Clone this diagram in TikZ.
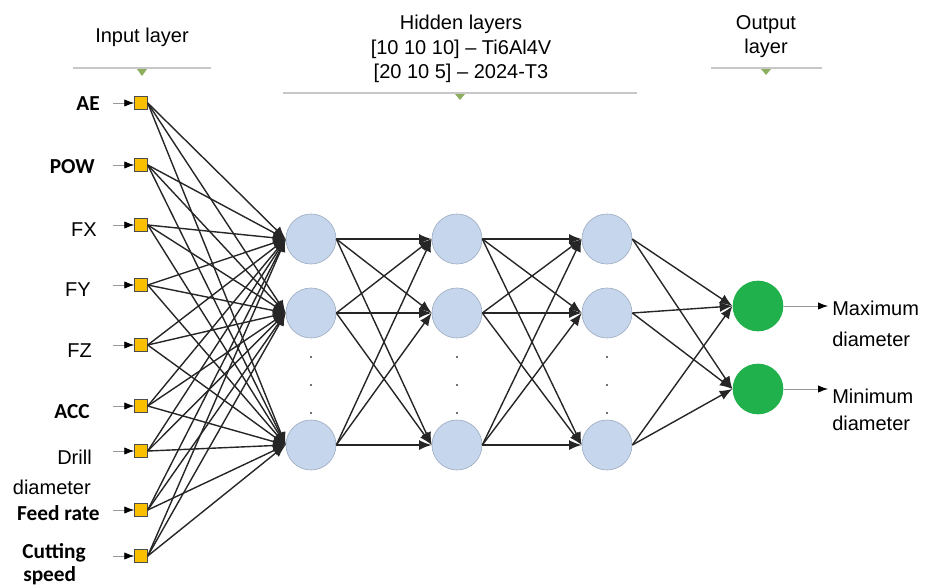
\documentclass[tikz,border=0pt]{standalone}
\usepackage{fontspec}
\setmainfont{Liberation Sans}
\newfontfamily\calib{Carlito}
\usetikzlibrary{arrows.meta, positioning}
\definecolor{inyellow}{HTML}{FAC000}
\definecolor{hidblue}{HTML}{C6D6EC}
\definecolor{hidline}{HTML}{A0AFC4}
\definecolor{outgreen}{HTML}{20B04C}
\definecolor{trigreen}{HTML}{8CAE5E}

\begin{document}
\begin{tikzpicture}[x=0.75pt,y=-0.75pt,
  inbox/.style={draw=black!70,fill=inyellow,minimum size=9.5pt,inner sep=0pt,line width=0.6pt},
  hid/.style={circle,draw=hidline,fill=hidblue,minimum size=37.5pt,inner sep=0pt,line width=0.5pt},
  outn/.style={circle,fill=outgreen,minimum size=38pt,inner sep=0pt},
  conn/.style={draw=black!85,line width=1.05pt,-{Latex[length=9.5pt,width=7.5pt]}},
  feed/.style={draw=gray!80,line width=0.6pt,-{Latex[length=7.5pt,width=5.5pt,color=black]}},
  plab/.style={font=\fontsize{15}{18.4}\selectfont,inner sep=0pt},
  blab/.style={font=\calib\bfseries\fontsize{16}{19}\selectfont,inner sep=0pt},
  hdline/.style={draw=black!22,line width=0.9pt}]
\useasboundingbox (0,0) rectangle (930,586);

% headers
\node[plab,anchor=base] (hdin) at (142,42) {Input layer};
\node[plab,anchor=north,align=center] (hdhid) at (461,15) {Hidden layers\\{[10 10 10]} -- Ti6Al4V\\{[20 10 5]} -- 2024-T3};
\node[plab,anchor=north,align=center] (hdout) at (766,15) {Output\\layer};
\draw[hdline] (73,68) -- (211,68);
\draw[hdline] (283,93) -- (637,93);
\draw[hdline] (711,68) -- (822,68);
\fill[trigreen] (137,69) -- (147,69) -- (142,76) -- cycle;
\fill[trigreen] (455,94) -- (465,94) -- (460,100) -- cycle;
\fill[trigreen] (761,69) -- (771,69) -- (766,75) -- cycle;

% input layer
\foreach \i/\y in {1/103,2/165,3/225,4/285,5/345,6/406,7/451,8/510,9/556}{
  \node[inbox] (in\i) at (141,\y) {};
  \coordinate (s\i) at (113,\y);
  \draw[feed] (s\i) -- (in\i);
}
\node[blab,anchor=base east] (lae) at (100,110) {AE};
\node[blab,anchor=base east] (lpow) at (95,173) {POW};
\node[plab,anchor=base east] (lfx) at (97,236) {FX};
\node[plab,anchor=base east] (lfy) at (91,296) {FY};
\node[plab,anchor=base east] (lfz) at (92,357) {FZ};
\node[blab,anchor=base east] (lacc) at (90,418) {ACC};
\node[plab,anchor=base east] (ldrill) at (92,464) {Drill};
\node[plab,anchor=base east] (ldiam) at (91,494) {diameter};
\node[blab,anchor=base east] (lfeed) at (100,520) {Feed rate};
\node[blab,anchor=base west] (lcut) at (22,558) {Cutting};
\node[blab,anchor=base west] (lspeed) at (23,581) {speed};

% hidden layers
\foreach \c/\x in {1/311,2/457,3/607}{
  \foreach \r/\y in {1/239,2/313,3/445} \node[hid] (h\c\r) at (\x,\y) {};
  \foreach \y in {357,385,413} \fill[black!75] (\x,\y) circle (0.8pt);
}

% output layer
\node[outn] (o1) at (758,306) {};
\node[outn] (o2) at (758,389) {};
\coordinate (t1) at (828,306);
\coordinate (t2) at (828,389);
\draw[feed] (o1) -- (t1);
\draw[feed] (o2) -- (t2);
\node[plab,anchor=base west] (lmax1) at (832,315) {Maximum};
\node[plab,anchor=base west] (lmax2) at (832,346) {diameter};
\node[plab,anchor=base west] (lmin1) at (832,403) {Minimum};
\node[plab,anchor=base west] (lmin2) at (832,430) {diameter};

% connections
\foreach \i in {1,...,9} \foreach \r in {1,2,3} \draw[conn] (in\i.east) -- (h1\r.west);
\foreach \a/\b in {1/2,2/3} \foreach \r in {1,2,3} \foreach \s in {1,2,3} \draw[conn] (h\a\r.east) -- (h\b\s.west);
\foreach \r in {1,2,3} \foreach \s in {1,2} \draw[conn] (h3\r.east) -- (o\s.west);
\end{tikzpicture}
\end{document}
